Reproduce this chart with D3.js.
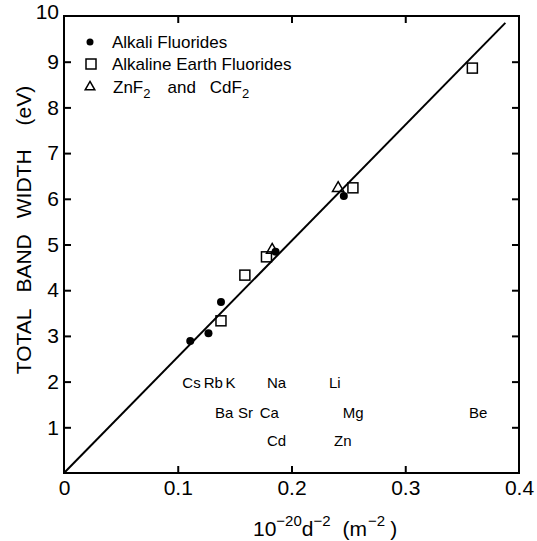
<!DOCTYPE html>
<html>
<head>
<meta charset="utf-8">
<script src="https://cdn.jsdelivr.net/npm/d3@7"></script>
<style>
  body { margin: 0; background: #fff; }
  svg { display: block; }
  text { font-family: "Liberation Sans", Arial, sans-serif; fill: #000; }
</style>
</head>
<body>
<div id="chart"></div>
<script>
// --- data ---
const alkaliNames = ['Cs', 'Rb', 'K', 'Na', 'Li'];
const alkaliX = [0.111, 0.127, 0.138, 0.186, 0.246];
const alkaliY = [2.89, 3.06, 3.74, 4.84, 6.06];

const earthNames = ['Ba', 'Sr', 'Ca', 'Mg', 'Be'];
const earthX = [0.138, 0.159, 0.178, 0.254, 0.359];
const earthY = [3.33, 4.33, 4.73, 6.24, 8.86];

const znCdNames = ['Cd', 'Zn'];
const znCdX = [0.183, 0.241];
const znCdY = [4.86, 6.21];

// straight line through the origin
const fitX = [0, 0.388];
const fitY = [0, 9.85];

// element labels: text, x (data), row height (data)
const labelText = ['Cs', 'Rb', 'K', 'Na', 'Li', 'Ba', 'Sr', 'Ca', 'Mg', 'Be', 'Cd', 'Zn'];
const labelX = [0.1040, 0.1228, 0.1420, 0.1785, 0.233, 0.1327, 0.153, 0.172, 0.245, 0.356, 0.1785, 0.2374];
const labelY = [1.99, 1.99, 1.99, 1.99, 1.99, 1.33, 1.33, 1.33, 1.33, 1.33, 0.72, 0.72];

const xTicks = [0, 0.1, 0.2, 0.3, 0.4];
const yTicks = [0, 1, 2, 3, 4, 5, 6, 7, 8, 9, 10];

const W = 537, H = 541;
const M = { left: 64, right: 519, top: 16, bottom: 473 };

const svg = d3.select('#chart').append('svg').attr('width', W).attr('height', H);

const x = d3.scaleLinear().domain([0, 0.4]).range([M.left, M.right]);
const y = d3.scaleLinear().domain([0, 10]).range([M.bottom, M.top]);

// ─── frame + ticks ───
svg.append('rect')
    .attr('x', M.left).attr('y', M.top)
    .attr('width', M.right - M.left).attr('height', M.bottom - M.top)
    .attr('fill', 'none').attr('stroke', '#000').attr('stroke-width', 2);

const fmtX = d => d === 0 ? '0' : d3.format('.1f')(d);

const xAxis = svg.append('g').attr('transform', `translate(0,${M.bottom})`)
    .call(d3.axisBottom(x).tickValues(xTicks).tickSize(-7).tickPadding(7).tickFormat(fmtX));
const xTop = svg.append('g').attr('transform', `translate(0,${M.top})`)
    .call(d3.axisTop(x).tickValues(xTicks.slice(1, -1)).tickSize(-7).tickFormat(''));
const yAxis = svg.append('g').attr('transform', `translate(${M.left},0)`)
    .call(d3.axisLeft(y).tickValues(yTicks).tickSize(-7).tickPadding(5));
const yRight = svg.append('g').attr('transform', `translate(${M.right},0)`)
    .call(d3.axisRight(y).tickValues(yTicks.slice(1, -1)).tickSize(-7).tickFormat(''));

[xAxis, xTop, yAxis, yRight].forEach(a => {
    a.select('.domain').remove();
    a.selectAll('.tick line').attr('stroke', '#000').attr('stroke-width', 2);
    a.selectAll('.tick text')
        .style('font-family', '"Liberation Sans", Arial, sans-serif')
        .style('font-size', '21px').attr('fill', '#000');
});
// tick marks at the frame corners are not needed
xAxis.selectAll('.tick line').filter(d => d === 0 || d === 0.4).remove();
yAxis.selectAll('.tick line').filter(d => d === 0 || d === 10).remove();
yAxis.selectAll('.tick text').filter(d => d === 10).attr('dy', '0.1em');
yAxis.selectAll('.tick text').filter(d => d === 0).remove();

// ─── fit line ───
svg.append('line')
    .attr('x1', x(fitX[0])).attr('y1', y(fitY[0]))
    .attr('x2', x(fitX[1])).attr('y2', y(fitY[1]))
    .attr('stroke', '#000').attr('stroke-width', 2);

// ─── markers ───
const zip = (xs, ys) => xs.map((v, i) => ({ x: v, y: ys[i] }));

svg.append('g').selectAll('circle')
    .data(zip(alkaliX, alkaliY))
    .enter().append('circle')
    .attr('cx', d => x(d.x)).attr('cy', d => y(d.y))
    .attr('r', 4).attr('fill', '#000');

const SQ = 10;
svg.append('g').selectAll('rect')
    .data(zip(earthX, earthY))
    .enter().append('rect')
    .attr('x', d => x(d.x) - SQ / 2).attr('y', d => y(d.y) - SQ / 2)
    .attr('width', SQ).attr('height', SQ)
    .attr('fill', 'none').attr('stroke', '#000').attr('stroke-width', 1.5);

const tri = d3.symbol().type(d3.symbolTriangle).size(55);
svg.append('g').selectAll('path')
    .data(zip(znCdX, znCdY))
    .enter().append('path')
    .attr('transform', d => `translate(${x(d.x)},${y(d.y) - 1})`)
    .attr('d', tri)
    .attr('fill', 'none').attr('stroke', '#000').attr('stroke-width', 1.5);

// ─── element labels ───
svg.append('g').selectAll('text')
    .data(labelText.map((t, i) => ({ t, x: labelX[i], y: labelY[i] })))
    .enter().append('text')
    .attr('x', d => x(d.x)).attr('y', d => y(d.y))
    .attr('dominant-baseline', 'central')
    .style('font-size', '15px')
    .text(d => d.t);

// ─── legend ───
const lg = svg.append('g');
lg.append('circle').attr('cx', 90).attr('cy', 42).attr('r', 3.5).attr('fill', '#000');
lg.append('rect').attr('x', 86).attr('y', 59).attr('width', 10).attr('height', 10)
    .attr('fill', 'none').attr('stroke', '#000').attr('stroke-width', 1.5);
lg.append('path').attr('transform', 'translate(90,87)').attr('d', d3.symbol().type(d3.symbolTriangle).size(40))
    .attr('fill', 'none').attr('stroke', '#000').attr('stroke-width', 1.5);

const legFont = '17px';
lg.append('text').attr('x', 112).attr('y', 48).style('font-size', legFont).text('Alkali Fluorides');
lg.append('text').attr('x', 112).attr('y', 70).style('font-size', legFont).text('Alkaline Earth Fluorides');
const zt = lg.append('text').attr('x', 113).attr('y', 93).style('font-size', legFont);
zt.append('tspan').text('ZnF');
zt.append('tspan').attr('dy', 5).style('font-size', '13px').text('2');
zt.append('tspan').attr('dy', -5).attr('dx', 17).text('and');
zt.append('tspan').attr('dx', 14).text('CdF');
zt.append('tspan').attr('dy', 5).style('font-size', '13px').text('2');

// ─── axis titles ───
const xt = svg.append('text').attr('x', 253).attr('y', 536).style('font-size', '21px');
xt.append('tspan').text('10');
xt.append('tspan').attr('dy', -10).style('font-size', '15px').text('\u221220');
xt.append('tspan').attr('dy', 10).attr('dx', 0).text('d');
xt.append('tspan').attr('dy', -10).style('font-size', '15px').text('\u22122');
xt.append('tspan').attr('dy', 10).attr('dx', 12).text('(m');
xt.append('tspan').attr('dy', -10).attr('dx', 1).style('font-size', '15px').text('\u22122');
xt.append('tspan').attr('dy', 10).attr('dx', 5).text(')');

const yt = svg.append('text')
    .attr('transform', 'translate(31,230) rotate(-90)')
    .attr('text-anchor', 'middle')
    .style('font-size', '21px');
yt.append('tspan').text('TOTAL');
yt.append('tspan').attr('dx', 16).text('BAND');
yt.append('tspan').attr('dx', 16).text('WIDTH');
yt.append('tspan').attr('dx', 24).text('(eV)');
</script>
</body>
</html>
